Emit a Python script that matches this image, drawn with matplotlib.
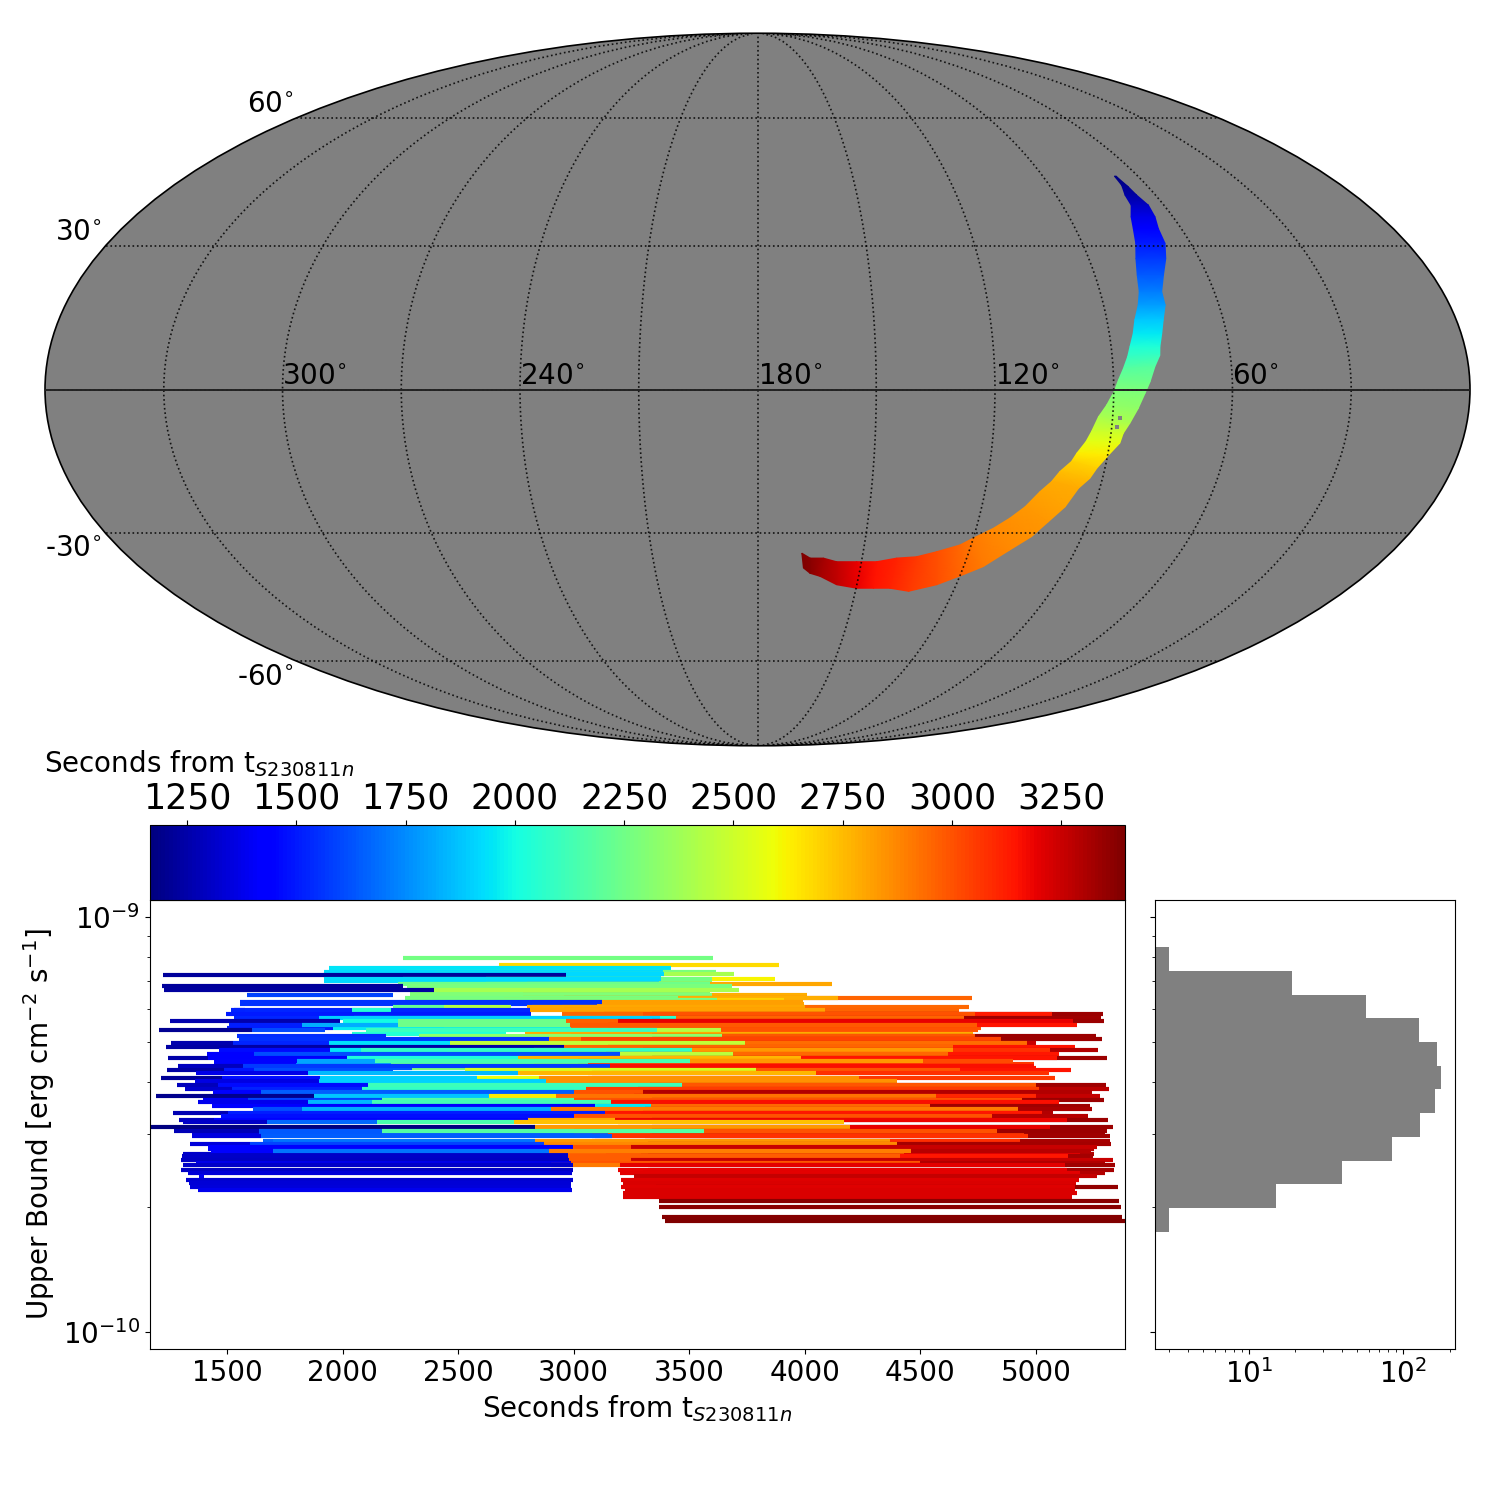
import numpy as np
import matplotlib
matplotlib.use('Agg')
import matplotlib.pyplot as plt
from matplotlib.cm import ScalarMappable
from matplotlib.colors import Normalize

T_MIN, T_MAX = 1165, 3396
T_AX_MAX = 5385

# Sky map: sky region edges (RA, Dec in degrees) and arrival times along the arc
inner_ra = [67.4, 67.7, 69.2, 69.7, 72.1, 73.6, 75.2, 77.2, 78.7, 79.7, 81.0, 82.8, 83.9, 85.2,
            86.1, 87.4, 88.8, 89.9, 91.7, 93.6, 95.0, 96.1, 98.0, 99.0, 101.5, 103.1, 105.5, 108.4,
            111.6, 115.3, 120.0, 123.1, 129.2, 134.5, 140.1, 145.6, 151.4, 157.2, 161.1, 164.9, 167.4]
inner_dec = [45.6, 43.5, 41.2, 38.9, 36.3, 33.7, 30.5, 27.2, 23.7, 20.2, 17.4, 14.3, 11.5, 8.8,
             6.7, 4.3, 1.9, -0.4, -3.2, -5.6, -8.6, -10.7, -13.1, -14.8, -16.9, -19.0, -21.1, -24.3,
             -26.7, -28.9, -31.0, -32.5, -34.0, -35.1, -35.4, -36.2, -36.2, -36.2, -35.4, -35.4, -34.3]
outer_ra = [66.9, 66.1, 65.7, 64.6, 65.2, 66.5, 67.1, 69.1, 71.7, 73.8, 74.0, 75.5, 76.6, 77.6,
            77.9, 79.4, 80.8, 82.1, 83.7, 85.5, 86.9, 87.4, 89.8, 92.1, 93.3, 95.6, 97.7, 100.9,
            104.0, 108.6, 114.3, 119.1, 125.9, 133.7, 139.7, 144.7, 149.8, 156.1, 161.4, 164.5, 166.6]
outer_dec = [45.6, 43.1, 41.2, 38.9, 36.3, 33.7, 30.5, 27.2, 23.7, 20.2, 17.4, 14.3, 11.5, 8.8,
             7.0, 4.7, 1.6, -0.8, -3.9, -6.9, -9.0, -11.0, -13.5, -16.2, -18.3, -20.4, -24.3, -27.5,
             -30.7, -33.6, -37.3, -39.1, -41.4, -42.9, -42.2, -42.2, -42.2, -41.4, -39.5, -38.8, -37.6]
arc_time = [1170, 1200, 1240, 1300, 1370, 1430, 1500, 1570, 1640, 1720, 1790, 1880, 1950, 2030,
            2090, 2180, 2240, 2290, 2340, 2410, 2500, 2560, 2630, 2700, 2750, 2790, 2810, 2830,
            2850, 2870, 2900, 2950, 3010, 3060, 3110, 3150, 3190, 3270, 3320, 3370, 3396]
hole_ra = [88.1, 88.7]
hole_dec = [-5.8, -7.7]

ra_ticks = [300, 240, 180, 120, 60]
dec_ticks = [60, 30, -30, -60]

# Upper limits: one bound per row (units of 1e-10), and each row's observation windows
row_bound = [7.00, 6.57, 6.16, 5.41, 4.43, 4.32, 3.01, 2.76, 2.69,
             7.97, 7.66, 7.53, 7.39, 7.29, 7.25, 7.09, 6.92, 6.82, 6.67, 6.49, 6.40, 6.33, 6.23, 6.08,
             5.97, 5.83, 5.72, 5.62, 5.51, 5.34, 5.24, 5.17, 5.08, 4.97, 4.87, 4.78, 4.67, 4.58, 4.50,
             4.38, 4.27, 4.20, 4.10, 4.03, 3.95, 3.86, 3.78, 3.71, 3.63, 3.58, 3.51, 3.45, 3.37, 3.32,
             3.24, 3.20, 3.12, 3.05, 2.97, 2.89, 2.84, 2.80, 2.73, 2.65, 2.60, 2.56, 2.52, 2.46, 2.42,
             2.38, 2.33, 2.29, 2.24, 2.20, 2.16, 2.12, 2.07, 2.00, 1.89, 1.85]
row_starts = [
    [2270, 1920], [2290], [2800, 1556], [2990, 1960, 1500], [3060, 2210, 1800, 1444],
    [3150, 2300, 1620, 1290], [3330, 3050, 1640, 1350], [3280, 2950, 1420], [3300, 3190, 2960, 1310],
    [2263], [2678], [1941], [2280, 1920], [2400, 1920], [1917, 1224], [2620, 2263, 1920], [2800, 2241],
    [2280, 1220], [2396, 1228], [2780, 2290, 1585], [2960, 2780, 2270], [2700, 2280], [2820, 1556],
    [2950, 2800, 2437, 2220],
    [2960, 2810, 1530, 2040, 1517], [3340, 3130, 3000, 2950, 1497], [3330, 2960, 2050, 1898, 1530],
    [3340, 3193, 2967, 2240, 2000, 1254], [3150, 2985, 2240, 1825, 1509], [3000, 2437, 2100, 1608, 1206],
    [2790, 2040], [3340, 2990, 2330, 1544], [3340, 3030, 2890, 1550], [3250, 2940, 2465, 1940, 1527, 1258],
    [3150, 2960, 1236], [3300, 3080, 2830, 2080, 1945, 1465], [3140, 2950, 2450, 1617, 1412],
    [3340, 3150, 2760, 2020, 1420, 1245], [3020, 2830, 2140, 1802, 1444],
    [3155, 1570, 1290], [3150, 2990, 2530, 1617, 1488, 1241], [3080, 2760, 1850, 1368],
    [3060, 2850, 2580, 1903, 1477, 1215], [2850, 1898, 1362], [3330, 2990, 2110, 1463, 1284],
    [3280, 3055, 2083, 1520, 1318], [3300, 3000, 1647, 1440], [3260, 3100, 2925, 2635, 1876, 1193],
    [3340, 3000, 2170, 1591, 1395], [3160, 2127, 1852, 1375], [3330, 2950, 1950, 1434],
    [3310, 2900, 1825, 1614], [3300, 3135, 1505, 1266], [3290, 3000, 1473],
    [3340, 3180, 2800, 1444, 1293], [2740, 2148, 1672, 1310], [3340, 3190, 2830, 1171],
    [3340, 3000, 2170, 1640, 1271], [3330, 3080, 1647, 1349], [3310, 3090, 2834, 1698, 1657],
    [3320, 2870, 1600, 1340], [3250, 2995, 1418], [3290, 2895, 1700, 1431], [3320, 3140, 2977, 1305],
    [3250, 2975, 1300], [3300, 2990, 1366], [3330, 3200, 2900, 1310], [3320, 3192, 1301], [3300, 3200, 1331],
    [3260, 1380], [3205, 1323], [3215, 1336], [3356, 3205, 1340], [3220, 1375],
    [3215], [3214], [3370], [3370], [3382], [3395],
]
row_stops = [
    [3600, 3370], [3590], [3995, 3100], [4760, 2990, 1960], [4990, 3060, 2210, 1800],
    [5000, 3150, 2300, 1620], [5300, 4950, 3150, 1640], [5250, 4440, 2950], [5250, 5190, 4430, 2975],
    [3601], [3888], [3420], [3616, 3388], [3694, 3390], [3376, 2967], [3871, 3597, 3377], [4118, 3590],
    [3684, 2263], [3715, 2396], [4008, 3597, 2220], [4724, 4144, 3450], [3910, 3620], [3990, 3123],
    [4710, 4000, 2730, 2437],
    [4667, 4087, 2810, 2210, 1580], [5290, 5070, 4736, 3300, 2815], [5281, 4690, 3443, 3373, 1898],
    [5294, 5160, 3193, 2967, 2240, 1989], [5176, 4744, 2985, 2240, 1825], [4748, 3638, 3360, 1924, 1608],
    [4727, 2705], [5260, 4736, 3640, 2190], [5286, 4849, 3030, 2893], [5000, 4960, 3741, 2465, 1940, 1527],
    [5169, 4643, 2958], [5268, 5060, 4640, 3512, 2080, 1945], [5100, 4620, 3690, 3200, 1617],
    [5306, 5090, 3983, 2760, 2020, 1420], [4900, 4510, 3503, 2140, 1802],
    [4992, 3155, 1570], [5152, 4671, 3790, 2220, 1617, 1488], [5055, 4048, 2760, 1850],
    [5083, 4234, 2850, 2580, 1903, 1477], [4400, 2880, 1898], [5303, 5000, 3468, 2110, 1463],
    [5316, 5013, 3055, 2083, 1520], [5243, 3300, 3000, 1647], [5277, 5000, 4568, 2925, 2635, 1876],
    [5294, 4940, 3000, 2170, 1591], [5100, 3160, 2127, 1852], [5234, 4540, 3335, 3092],
    [5243, 4922, 2900, 1825], [5075, 5028, 3135, 1505], [5224, 4808, 3000],
    [5312, 5135, 3180, 2802, 1444], [4170, 2740, 2148, 1672], [5333, 5060, 4195, 2833],
    [5306, 4830, 3564, 2170, 1640], [5320, 4965, 3164, 1647], [5320, 4930, 4370, 2834, 1698],
    [5325, 4400, 2870, 1600], [5265, 3250, 2998], [5240, 4460, 2895, 1700], [5248, 5140, 4412, 2977],
    [5331, 3250, 2980], [5300, 4500, 2988], [5342, 5125, 3200, 2998], [5338, 5135, 2997], [5300, 5190, 2992],
    [5263, 1400], [5185, 2997], [5175, 2990], [5354, 5170, 2990], [5170, 2993],
    [5176], [5156], [5360], [5368], [5372], [5385],
]

# Histogram of the bounds: bin edges (units of 1e-10) and counts
hist_edges = [8.47, 7.41, 6.49, 5.71, 5.00, 4.37, 3.85, 3.37, 2.95, 2.58, 2.27, 1.99, 1.74]
hist_counts = [3, 19, 57, 126, 165, 176, 161, 128, 84, 40, 15, 3]

plt.rcParams['font.family'] = 'DejaVu Sans'
fig = plt.figure(figsize=(15, 15), dpi=100)
W = H = 1500.0
norm = Normalize(T_MIN, T_MAX)
cmap = plt.get_cmap('jet')


def rect(x0, y0, x1, y1):
    return [x0 / W, 1 - y1 / H, (x1 - x0) / W, (y1 - y0) / H]


# ---- sky map ----
ax_map = fig.add_axes(rect(45, 33, 1470, 746), projection='mollweide')
ax_map.set_facecolor('#808080')
ax_map.set_longitude_grid(30)
ax_map.set_latitude_grid(30)
ax_map.set_longitude_grid_ends(89.5)
ax_map.grid(True, color='black', linestyle=':', linewidth=1.2, alpha=0.85)
ax_map.set_xticklabels([])
ax_map.set_yticklabels([])
for s in ax_map.spines.values():
    s.set_color('black')
    s.set_linewidth(1.2)

lon_in = np.radians(180 - np.array(inner_ra))
lon_out = np.radians(180 - np.array(outer_ra))
lat_in = np.radians(inner_dec)
lat_out = np.radians(outer_dec)
X = np.column_stack([lon_in, lon_out])
Y = np.column_stack([lat_in, lat_out])
C = np.column_stack([arc_time, arc_time]).astype(float)
ax_map.pcolormesh(X, Y, C, cmap=cmap, norm=norm, shading='gouraud', zorder=1.5)
ax_map.scatter(np.radians(180 - np.array(hole_ra)), np.radians(hole_dec), s=10, marker='s',
               color='#808080', linewidths=0, zorder=1.6)
ax_map.plot(np.radians([-179.9, 179.9]), [0, 0], color='#222222', lw=1.4, zorder=3)

for ra in ra_ticks:
    ax_map.annotate(f'{ra}$^{{\\circ}}$', xy=(np.radians(180 - ra), 0), xytext=(0, -0.5),
                    textcoords='offset points', fontsize=20, ha='left', va='bottom', zorder=4)
dec_label_x = [294, 102, 102, 294]
dec_label_y = [103.5, 232.5, 547.5, 676.5]
for dec, lx, ly in zip(dec_ticks, dec_label_x, dec_label_y):
    fig.text(lx / W, 1 - ly / H, f'{dec}$^{{\\circ}}$', fontsize=20, ha='right', va='center')

# ---- upper limits ----
ax = fig.add_axes(rect(150, 900, 1125, 1349))
for b, starts, stops in zip(row_bound, row_starts, row_stops):
    for t0, t1 in zip(starts, stops):
        ax.plot([t0, t1], [b * 1e-10, b * 1e-10], color=cmap(norm(t0)), lw=3, solid_capstyle='butt')
ax.set_yscale('log')
ax.set_xlim(T_MIN + 2, T_AX_MAX)
ax.set_ylim(0.91e-10, 1.10e-9)
ax.set_yticks([1e-10, 1e-9])
ax.set_xticks([1500, 2000, 2500, 3000, 3500, 4000, 4500, 5000])
ax.tick_params(axis='both', labelsize=20)
ax.set_xlabel('Seconds from t$_{S230811n}$', fontsize=20, labelpad=4.7)
ax.set_ylabel('Upper Bound [erg cm$^{-2}$ s$^{-1}$]', fontsize=20, labelpad=4.7)

# ---- colour bar ----
cax = fig.add_axes(rect(150, 825, 1125, 900))
cb = fig.colorbar(ScalarMappable(norm=norm, cmap=cmap), cax=cax, orientation='horizontal')
cb.set_ticks(list(range(1250, 3251, 250)))
cax.xaxis.set_ticks_position('top')
cax.tick_params(labelsize=25)
cb.outline.set_linewidth(0.8)
fig.text(44.5 / W, 1 - 772 / H, 'Seconds from t$_{S230811n}$', fontsize=20, ha='left', va='baseline')

# ---- histogram ----
ax_h = fig.add_axes(rect(1155, 900, 1455, 1349))
ax_h.set_xscale('log')
ax_h.set_yscale('log')
e = np.array(hist_edges) * 1e-10
ax_h.barh(e[1:], hist_counts, height=e[:-1] - e[1:], align='edge', color='#808080', left=0.001)
ax_h.set_xlim(2.45, 217)
ax_h.set_ylim(0.91e-10, 1.10e-9)
ax_h.set_yticks([1e-10, 1e-9])
ax_h.tick_params(axis='x', labelsize=20)
ax_h.tick_params(axis='y', which='both', labelleft=False)

fig.savefig('out.png', dpi=100)
